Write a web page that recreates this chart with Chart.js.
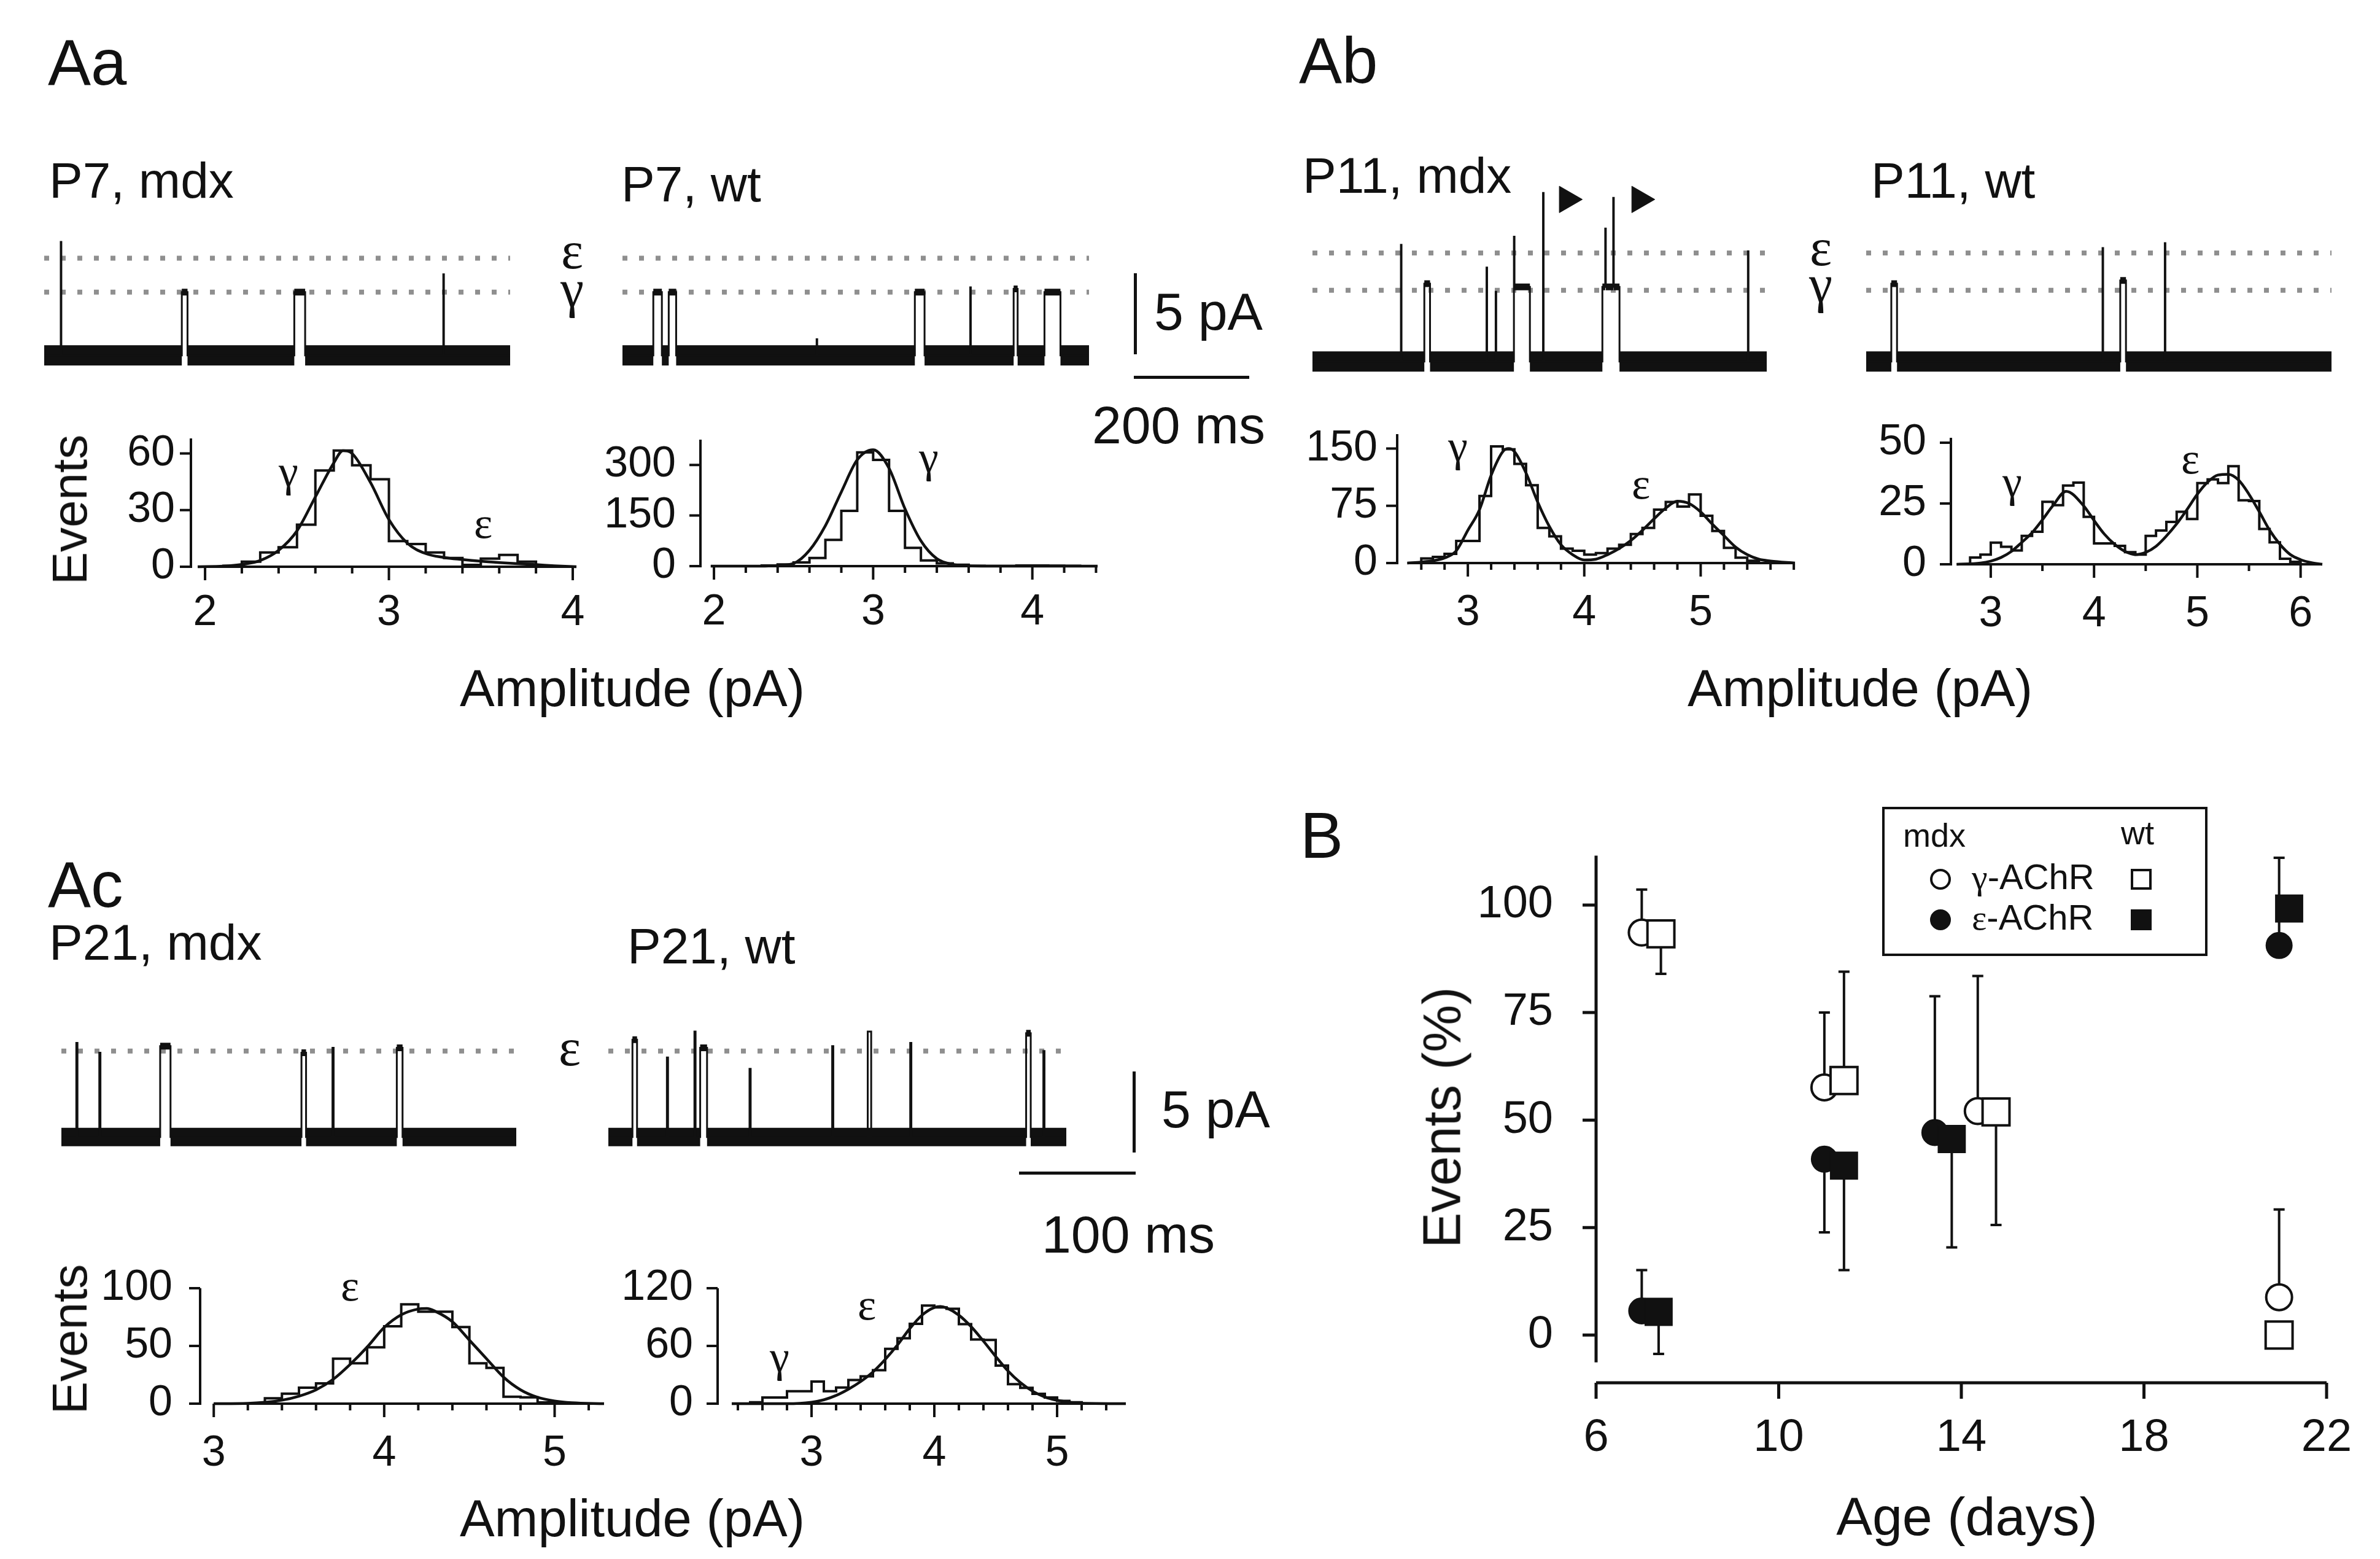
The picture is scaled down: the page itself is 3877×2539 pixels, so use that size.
<!DOCTYPE html>
<html>
<head>
<meta charset="utf-8">
<title>AChR openings, mdx vs wt</title>
<script src="https://cdn.jsdelivr.net/npm/chart.js@4.4.1/dist/chart.umd.min.js"></script>
<style>
  html, body { margin: 0; padding: 0; background: #fff; }
  body { position: relative; width: 3877px; height: 2539px; overflow: hidden;
         font-family: "Liberation Sans", Arial, sans-serif; color: #111; }
  canvas { position: absolute; }
  .txt { position: absolute; white-space: nowrap; line-height: 1; }
  .gr { font-family: "Liberation Serif", "DejaVu Serif", serif; }
  .bar { position: absolute; background: #111; }
</style>
</head>
<body>
<script>
// ---------- traces: [time ms, current pA] where the level changes ----------
const p7MdxDur = 816;
const p7MdxSteps = [[0,0],[29,7.0],[30,0],[241,3.9],[251,0],[438,3.9],[457,0],[699,5.0],[700,0]];
const p7WtDur = 817;
const p7WtSteps = [[0,0],[54,3.9],[69,0],[81,3.9],[94,0],[340,1.0],[341,0],[512,3.9],[529,0],
                   [609,4.2],[610,0],[685,4.1],[692,0],[739,3.9],[767,0]];
const p11MdxDur = 796;
const p11MdxSteps = [[0,0],[155,7.2],[156,0],[196,4.8],[206,0],[305,5.8],[306,0],[321,4.3],[322,0],
                     [353,7.7],[354,4.6],[381,0],[404,10.4],[405,0],[508,4.6],[513,8.2],[514,4.6],
                     [527,10.1],[528,4.6],[538,0],[763,6.8],[764,0]];
const p11MdxArrowsT = [446, 573];
const p11MdxArrowsY = [10.0, 10.0];
const p11WtDur = 815;
const p11WtSteps = [[0,0],[44,4.8],[54,0],[414,7.0],[415,0],[445,5.0],[455,0],[523,7.3],[524,0]];
const p21MdxDur = 396;
const p21MdxSteps = [[0,0],[13,5.8],[14,0],[33,5.2],[34,0],[86,5.6],[95,0],[209,5.2],[213,0],
                     [236,5.5],[237,0],[292,5.5],[297,0]];
const p21WtDur = 399;
const p21WtSteps = [[0,0],[21,6.0],[25,0],[51,4.9],[52,0],[75,6.5],[76,0],[80,5.5],[86,0],[123,4.2],[124,0],
                    [195,5.6],[196,0],[226,6.5],[229,0],[263,5.8],[264,0],[364,6.4],[368,0],[379,5.3],[380,0]];
// dotted reference levels (pA)
const p7Levels = [6.0, 3.9];
const p11Levels = [6.7, 4.4];
const p21Levels = [5.3];

// ---------- amplitude histograms (0.1 pA bins) ----------
const BIN = 0.1;
const aaMdxStart = 2.1;
const aaMdxCounts = [0.5, 2.7, 7.6, 10.3, 22.3, 51, 61.6, 53.8, 46.4, 13.6, 12, 7.6, 4.6, 1, 4.3, 6.3, 2.7];
const aaMdxFitX = [1.96, 2.1, 2.2, 2.3, 2.4, 2.5, 2.6, 2.7, 2.75, 2.8, 2.9, 3.0, 3.1, 3.2, 3.3, 3.4, 3.5, 3.6, 3.7, 3.8, 3.9, 4.02];
const aaMdxFitY = [0, 0.3, 1.2, 3.3, 8.7, 19, 37, 55, 61.5, 60, 44.6, 25, 12.5, 7, 4.9, 3.8, 2.9, 2.2, 1.6, 1.1, 0.5, 0];

const aaWtStart = 2.3;
const aaWtCounts = [2, 5, 11, 24, 78, 164, 337, 315, 164, 54, 17, 8, 4, 1, 0.5, 0.5, 2, 2, 1.5, 1];
const aaWtFitX = [1.98, 2.3, 2.4, 2.5, 2.6, 2.7, 2.8, 2.9, 3.0, 3.1, 3.2, 3.3, 3.4, 3.5, 3.6, 3.8, 4.41];
const aaWtFitY = [0, 0, 2, 8, 47, 120, 220, 315, 345, 290, 170, 75, 22, 5, 1, 0, 0];

const abMdxStart = 2.6;
const abMdxCounts = [6, 8, 12, 29, 29, 88, 153, 149, 130, 102, 46, 35, 19, 16, 11, 13, 19, 24, 38, 46,
                     70, 80, 74, 90, 62, 42, 20, 7, 3];
const abMdxFitX = [2.48, 2.6, 2.7, 2.8, 2.9, 3.0, 3.1, 3.2, 3.3, 3.35, 3.4, 3.5, 3.6, 3.7, 3.8, 3.9, 4.0,
                   4.1, 4.2, 4.3, 4.4, 4.5, 4.6, 4.7, 4.8, 4.9, 5.0, 5.1, 5.2, 5.3, 5.4, 5.5, 5.6, 5.81];
const abMdxFitY = [0, 1.3, 3, 6.7, 16, 43, 70, 115, 146, 150, 146, 118, 80, 48, 24, 11, 4,
                   5, 11, 19, 29.5, 43, 58, 72, 81, 78, 67, 51, 36, 21, 11, 5, 2.7, 0];

const abWtStart = 2.8;
const abWtCounts = [2.8, 4, 8.9, 7.2, 5.7, 11.7, 13.4, 25.7, 24.3, 32.4, 33.6, 19.5, 8.6, 8.6, 7.6, 5, 4,
                    11.7, 13.9, 17.4, 21.6, 18.6, 33.4, 34.9, 33.4, 40.3, 26.3, 26, 14.5, 9, 2.3, 1];
const abWtFitX = [2.67, 2.9, 3.0, 3.1, 3.2, 3.3, 3.4, 3.5, 3.6, 3.73, 3.9, 4.0, 4.1, 4.2, 4.3, 4.4, 4.5,
                  4.6, 4.7, 4.8, 4.9, 5.0, 5.1, 5.2, 5.3, 5.4, 5.5, 5.6, 5.7, 5.8, 5.9, 6.0, 6.1, 6.21];
const abWtFitY = [0, 0.5, 1.3, 2.8, 5.3, 9, 13, 18.3, 24, 30, 24, 18, 12.4, 8.2, 5.3, 4, 4.9,
                  7.4, 11.6, 16.6, 22.5, 28.8, 33.8, 36.7, 37, 34.6, 28.8, 21.6, 14, 8.2, 4, 1.9, 0.7, 0];

const acMdxStart = 3.3;
const acMdxCounts = [4.7, 8.6, 13.8, 17.5, 39, 35, 48.8, 67, 86, 79.7, 79.7, 66.4, 35, 31, 6, 5.5, 1];
const acMdxFitX = [3.0, 3.2, 3.3, 3.4, 3.5, 3.6, 3.7, 3.8, 3.9, 4.0, 4.1, 4.2, 4.25, 4.3, 4.4, 4.5,
                   4.6, 4.7, 4.8, 4.9, 5.0, 5.1, 5.29];
const acMdxFitY = [0, 0.3, 1.2, 3, 6.5, 12, 21, 34, 49, 66, 77, 82, 82.5, 80, 71, 55,
                   39, 23, 12, 5.5, 2.3, 0.8, 0];

const acWtStart = 2.5;
const acWtCounts = [1.4, 6.4, 6.4, 13, 13, 23, 13, 16.8, 24.6, 28.4, 34.8, 57, 68, 83, 102, 100, 98.6,
                    82.6, 66.7, 66.3, 39.6, 20.3, 16.4, 10.2, 6.4, 2.9, 1.4];
const acWtFitX = [2.35, 2.8, 3.0, 3.1, 3.2, 3.3, 3.4, 3.5, 3.6, 3.7, 3.8, 3.9, 4.0, 4.05, 4.1, 4.2, 4.3,
                  4.4, 4.5, 4.6, 4.7, 4.8, 4.9, 5.0, 5.1, 5.2, 5.56];
const acWtFitY = [0, 0, 1.5, 4, 8.5, 15, 23, 33, 46, 61, 78, 92, 100, 101, 99.5, 92, 80,
                  65, 49, 34, 22, 13, 7, 3.5, 1.5, 0.5, 0];

// ---------- B: events (%) vs age ----------
const bAgeTicks = [6, 10, 14, 18, 22];
const bPctTicks = [0, 25, 50, 75, 100];
const mdxGammaAge = [7.0, 11.0, 14.36, 20.96];
const mdxGamma = [93.6, 57.6, 52.1, 8.8];
const mdxGammaBar = [103.6, 75, 83.5, 29.2];
const wtGammaAge = [7.42, 11.43, 14.76, 20.96];
const wtGamma = [93.3, 59.2, 51.9, 0];
const wtGammaBar = [84.0, 84.5, 25.6, null];
const mdxEpsAge = [7.0, 11.0, 13.42, 20.96];
const mdxEps = [5.6, 40.9, 47.1, 90.6];
const mdxEpsBar = [15.1, 23.9, 78.8, 111];
const wtEpsAge = [7.37, 11.43, 13.79, 21.18];
const wtEps = [5.4, 39.4, 45.6, 99.2];
const wtEpsBar = [-4.4, 15.1, 20.4, null];

// ---------- helpers ----------
Chart.defaults.font.family = '"Liberation Sans", Arial, sans-serif';
Chart.defaults.color = '#111';
const INK = '#111';
const common = {
  responsive: false, animation: false, devicePixelRatio: 1, events: [],
  plugins: { legend: { display: false }, tooltip: { enabled: false } }
};

function addCanvas(area, pad) {
  const c = document.createElement('canvas');
  const w = Math.round(area.r - area.l + pad.left + pad.right);
  const h = Math.round(area.b - area.t + pad.top + pad.bottom);
  c.width = w; c.height = h;
  c.style.left = Math.round(area.l - pad.left) + 'px';
  c.style.top = Math.round(area.t - pad.top) + 'px';
  c.style.width = w + 'px'; c.style.height = h + 'px';
  document.body.appendChild(c);
  return c;
}

function text(str, x, y, size, opt = {}) {
  const d = document.createElement('div');
  d.className = 'txt' + (opt.serif ? ' gr' : '');
  d.innerHTML = str;
  d.style.fontSize = size + 'px';
  d.style.left = x + 'px';
  d.style.top = y + 'px';
  const ax = opt.align === 'center' ? '-50%' : '0';
  d.style.transform = 'translate(' + ax + ',-50%)' + (opt.rotate ? ' rotate(' + opt.rotate + 'deg)' : '');
  document.body.appendChild(d);
}

function bar(l, t, w, h) {
  const d = document.createElement('div');
  d.className = 'bar';
  Object.assign(d.style, { left: l + 'px', top: t + 'px', width: w + 'px', height: h + 'px' });
  document.body.appendChild(d);
}

// axis lines + major/minor tick marks, placed through the chart scales
function axesPlugin(a) {
  return {
    id: 'axes',
    afterDraw(chart) {
      const { ctx, scales: { x, y } } = chart;
      const px = v => x.getPixelForValue(v), py = v => y.getPixelForValue(v);
      const yx = py(a.xAt), xy = px(a.yAt);
      ctx.save();
      ctx.strokeStyle = INK; ctx.lineWidth = a.width; ctx.lineCap = 'butt';
      ctx.beginPath();
      ctx.moveTo(px(a.xLine[0]), yx); ctx.lineTo(px(a.xLine[1]), yx);
      ctx.moveTo(xy, py(a.yLine[0]) + a.width / 2); ctx.lineTo(xy, py(a.yLine[1]));
      a.xMajor.forEach(v => { ctx.moveTo(px(v), yx); ctx.lineTo(px(v), yx + a.majorLen); });
      a.xMinor.forEach(v => { ctx.moveTo(px(v), yx); ctx.lineTo(px(v), yx + a.minorLen); });
      a.yMajor.forEach(v => { ctx.moveTo(xy, py(v)); ctx.lineTo(xy - a.yLen, py(v)); });
      ctx.stroke();
      ctx.restore();
    }
  };
}

function range(a, b, step) {
  const out = [];
  for (let v = a; v <= b + 1e-9; v += step) out.push(+v.toFixed(2));
  return out;
}

function histChart(h) {
  const pad = { left: 200, top: 150, right: 160, bottom: 150 };
  const c = addCanvas(h.area, pad);
  const pts = [{ x: h.start, y: 0 }];
  h.counts.forEach((n, i) => pts.push({ x: +(h.start + i * BIN).toFixed(2), y: n }));
  pts.push({ x: +(h.start + h.counts.length * BIN).toFixed(2), y: 0 });
  const fit = h.fitX.map((v, i) => ({ x: v, y: h.fitY[i] }));
  const minor = h.xMinor.filter(v => !h.xMajor.includes(v));
  new Chart(c, {
    type: 'line',
    data: { datasets: [
      { data: pts, stepped: 'before', borderColor: INK, borderWidth: 4, pointRadius: 0, clip: false },
      { data: fit, borderColor: INK, borderWidth: 4.5, pointRadius: 0, cubicInterpolationMode: 'monotone', clip: false }
    ] },
    options: { ...common,
      layout: { autoPadding: false, padding: { left: 0, top: pad.top, right: pad.right, bottom: 0 } },
      scales: {
        x: { type: 'linear', min: h.xmin, max: h.xmax,
             afterFit: s => { s.height = pad.bottom; },
             afterBuildTicks: s => { s.ticks = h.xMajor.map(v => ({ value: v })); },
             border: { display: false }, grid: { display: false, drawTicks: false },
             ticks: { padding: h.xPad, font: { size: 70 }, color: INK, autoSkip: false, maxRotation: 0 } },
        y: { type: 'linear', min: 0, max: h.ymax,
             afterFit: s => { s.width = pad.left; },
             afterBuildTicks: s => { s.ticks = h.yMajor.map(v => ({ value: v })); },
             border: { display: false }, grid: { display: false, drawTicks: false },
             ticks: { padding: h.yPad, font: { size: 70 }, color: INK } }
      } },
    plugins: [axesPlugin({ width: 4, xAt: 0, xLine: [h.lineStart, h.xmax], yAt: h.xmin, yLine: [0, h.ymax],
                           xMajor: h.xMajor, xMinor: minor, yMajor: h.yMajor,
                           majorLen: 22, minorLen: 11, yLen: 18 })]
  });
}

function traceChart(t) {
  const ppa = 26.4;
  const area = { l: t.l, r: t.r, t: t.base - t.ymax * ppa, b: t.base - t.ymin * ppa };
  const pad = { left: 10, top: 10, right: 10, bottom: 10 };
  const c = addCanvas(area, pad);
  const trace = t.steps.map(([x, y]) => ({ x, y }));
  trace.push({ x: t.dur, y: 0 });
  // dense noise: closed periods drawn as a thick band, long openings as a thinner band
  const band = [], open = [];
  t.steps.forEach(([x, lv], i) => {
    const nx = i + 1 < t.steps.length ? t.steps[i + 1][0] : t.dur;
    if (lv === 0) band.push({ x, y: 0 }, { x: nx, y: 0 });
    else if (nx - x > 3) {
      band.push({ x: (x + nx) / 2, y: null });
      open.push({ x, y: lv }, { x: nx, y: lv }, { x: (x + nx) / 2 + 0.01, y: null });
    }
  });
  const sets = [
    { data: trace, stepped: 'before', borderColor: INK, borderWidth: 3, pointRadius: 0, clip: false, order: 1 },
    { data: band, borderColor: INK, borderWidth: t.noise, pointRadius: 0, clip: false, order: 2 },
    { data: open, borderColor: INK, borderWidth: 11, pointRadius: 0, clip: false, order: 2 }
  ];
  t.levels.forEach(lv => sets.push({
    data: [{ x: 0, y: lv }, { x: t.dur, y: lv }], borderColor: '#8f8f8f', borderWidth: 8,
    borderDash: [8, 19], pointRadius: 0, clip: false, order: 5 }));
  if (t.arrowsT) sets.push({
    data: t.arrowsT.map((x, i) => ({ x, y: t.arrowsY[i] })), showLine: false,
    pointStyle: 'triangle', rotation: 90, pointRadius: 25, backgroundColor: INK, borderColor: INK,
    borderWidth: 1, clip: false, order: 0 });
  new Chart(c, {
    type: 'line',
    data: { datasets: sets },
    options: { ...common, layout: { autoPadding: false, padding: pad },
      scales: { x: { type: 'linear', display: false, min: 0, max: t.dur },
                y: { type: 'linear', display: false, min: t.ymin, max: t.ymax } } }
  });
}

// ---------- traces ----------
traceChart({ l: 72, r: 831, base: 579, ymin: -3, ymax: 12, dur: p7MdxDur, steps: p7MdxSteps, levels: p7Levels, noise: 33 });
traceChart({ l: 1014, r: 1774, base: 579, ymin: -3, ymax: 12, dur: p7WtDur, steps: p7WtSteps, levels: p7Levels, noise: 33 });
traceChart({ l: 2138, r: 2878, base: 589, ymin: -3, ymax: 12, dur: p11MdxDur, steps: p11MdxSteps, levels: p11Levels,
             noise: 33, arrowsT: p11MdxArrowsT, arrowsY: p11MdxArrowsY });
traceChart({ l: 3040, r: 3798, base: 589, ymin: -3, ymax: 12, dur: p11WtDur, steps: p11WtSteps, levels: p11Levels, noise: 33 });
traceChart({ l: 100, r: 841, base: 1852, ymin: -3, ymax: 9, dur: p21MdxDur, steps: p21MdxSteps, levels: p21Levels, noise: 30 });
traceChart({ l: 991, r: 1737, base: 1852, ymin: -3, ymax: 9, dur: p21WtDur, steps: p21WtSteps, levels: p21Levels, noise: 30 });

// ---------- histograms ----------
histChart({ area: { l: 311, r: 939, t: 714, b: 923 }, xmin: 1.923, xmax: 4.02, ymax: 68, lineStart: 1.96,
            xMajor: [2, 3, 4], xMinor: range(2, 4, 0.2), yMajor: [0, 30, 60], xPad: 34, yPad: 26,
            start: aaMdxStart, counts: aaMdxCounts, fitX: aaMdxFitX, fitY: aaMdxFitY });
histChart({ area: { l: 1141, r: 1788, t: 716, b: 922 }, xmin: 1.915, xmax: 4.41, ymax: 375, lineStart: 1.98,
            xMajor: [2, 3, 4], xMinor: range(2, 4.4, 0.2), yMajor: [0, 150, 300], xPad: 34, yPad: 40,
            start: aaWtStart, counts: aaWtCounts, fitX: aaWtFitX, fitY: aaWtFitY });
histChart({ area: { l: 2276, r: 2924, t: 707, b: 917 }, xmin: 2.393, xmax: 5.81, ymax: 169, lineStart: 2.48,
            xMajor: [3, 4, 5], xMinor: range(2.6, 5.8, 0.2), yMajor: [0, 75, 150], xPad: 40, yPad: 32,
            start: abMdxStart, counts: abMdxCounts, fitX: abMdxFitX, fitY: abMdxFitY });
histChart({ area: { l: 3178, r: 3783, t: 713, b: 919 }, xmin: 2.614, xmax: 6.21, ymax: 52, lineStart: 2.67,
            xMajor: [3, 4, 5, 6], xMinor: range(3, 6, 0.5), yMajor: [0, 25, 50], xPad: 40, yPad: 40,
            start: abWtStart, counts: abWtCounts, fitX: abWtFitX, fitY: abWtFitY });
histChart({ area: { l: 326, r: 984, t: 2098, b: 2286 }, xmin: 2.92, xmax: 5.29, ymax: 100, lineStart: 3.0,
            xMajor: [3, 4, 5], xMinor: range(3, 5.2, 0.2), yMajor: [0, 50, 100], xPad: 40, yPad: 45,
            start: acMdxStart, counts: acMdxCounts, fitX: acMdxFitX, fitY: acMdxFitY });
histChart({ area: { l: 1169, r: 1834, t: 2098, b: 2286 }, xmin: 2.235, xmax: 5.56, ymax: 120, lineStart: 2.35,
            xMajor: [3, 4, 5], xMinor: range(2.4, 5.4, 0.2), yMajor: [0, 60, 120], xPad: 40, yPad: 40,
            start: acWtStart, counts: acWtCounts, fitX: acWtFitX, fitY: acWtFitY });

// ---------- B ----------
(function () {
  const area = { l: 2600, r: 3790, t: 1390, b: 2252 };
  const pad = { left: 260, top: 150, right: 160, bottom: 160 };
  const c = addCanvas(area, pad);
  const pts = (xs, ys) => xs.map((x, i) => ({ x, y: ys[i] }));
  const errSets = [
    { x: mdxGammaAge, y: mdxGamma, to: mdxGammaBar }, { x: wtGammaAge, y: wtGamma, to: wtGammaBar },
    { x: mdxEpsAge, y: mdxEps, to: mdxEpsBar }, { x: wtEpsAge, y: wtEps, to: wtEpsBar }
  ];
  const errorBars = {
    id: 'errbars',
    beforeDatasetsDraw(chart) {
      const { ctx, scales: { x, y } } = chart;
      ctx.save(); ctx.strokeStyle = INK; ctx.lineWidth = 4; ctx.beginPath();
      errSets.forEach(s => s.x.forEach((xv, i) => {
        if (s.to[i] === null) return;
        const px = x.getPixelForValue(xv), pe = y.getPixelForValue(s.to[i]);
        ctx.moveTo(px, y.getPixelForValue(s.y[i])); ctx.lineTo(px, pe);
        ctx.moveTo(px - 9, pe); ctx.lineTo(px + 9, pe);
      }));
      ctx.stroke(); ctx.restore();
    }
  };
  new Chart(c, {
    type: 'scatter',
    data: { datasets: [
      { data: pts(wtEpsAge, wtEps), pointStyle: 'rect', pointRadius: 31, backgroundColor: INK, borderColor: INK, borderWidth: 2 },
      { data: pts(wtGammaAge, wtGamma), pointStyle: 'rect', pointRadius: 31, backgroundColor: '#fff', borderColor: INK, borderWidth: 4 },
      { data: pts(mdxEpsAge, mdxEps), pointStyle: 'circle', pointRadius: 21, backgroundColor: INK, borderColor: INK, borderWidth: 2 },
      { data: pts(mdxGammaAge, mdxGamma), pointStyle: 'circle', pointRadius: 21, backgroundColor: '#fff', borderColor: INK, borderWidth: 4 }
    ] },
    options: { ...common,
      layout: { autoPadding: false, padding: { left: 0, top: pad.top, right: pad.right, bottom: 0 } },
      scales: {
        x: { type: 'linear', min: 6, max: 22,
             afterFit: s => { s.height = pad.bottom; },
             afterBuildTicks: s => { s.ticks = bAgeTicks.map(v => ({ value: v })); },
             border: { display: false }, grid: { display: false, drawTicks: false },
             ticks: { padding: 46, font: { size: 74 }, color: INK, autoSkip: false, maxRotation: 0 } },
        y: { type: 'linear', min: -11.1, max: 112,
             afterFit: s => { s.width = pad.left; },
             afterBuildTicks: s => { s.ticks = bPctTicks.map(v => ({ value: v })); },
             border: { display: false }, grid: { display: false, drawTicks: false },
             ticks: { padding: 70, font: { size: 74 }, color: INK } }
      } },
    plugins: [errorBars, axesPlugin({ width: 5, xAt: -11.1, xLine: [6, 22], yAt: 6, yLine: [-6, 111.5],
                                      xMajor: bAgeTicks, xMinor: [], yMajor: bPctTicks,
                                      majorLen: 26, minorLen: 0, yLen: 22 })]
  });
})();

// ---------- legend of B ----------
(function () {
  const box = document.createElement('div');
  Object.assign(box.style, { position: 'absolute', left: '3066px', top: '1314px', width: '530px', height: '243px',
                             border: '4px solid #111', boxSizing: 'border-box' });
  document.body.appendChild(box);
  const mark = (cx, cy, round, filled) => {
    const d = document.createElement('div');
    Object.assign(d.style, { position: 'absolute', left: (cx - 17) + 'px', top: (cy - 17) + 'px', width: '34px', height: '34px',
                             border: '4px solid #111', boxSizing: 'border-box', borderRadius: round ? '50%' : '0',
                             background: filled ? '#111' : '#fff' });
    document.body.appendChild(d);
  };
  text('mdx', 3100, 1360, 54);
  text('wt', 3455, 1356, 54);
  mark(3161, 1432, true, false); mark(3488, 1432, false, false);
  mark(3161, 1498, true, true); mark(3488, 1498, false, true);
  text('<span class="gr">&gamma;</span>-AChR', 3212, 1428, 58);
  text('<span class="gr">&epsilon;</span>-AChR', 3212, 1494, 58);
})();

// ---------- labels ----------
text('Aa', 78, 101, 105); text('Ab', 2116, 98, 105); text('Ac', 78, 1440, 105); text('B', 2118, 1360, 105);
text('P7, mdx', 80, 294, 82); text('P7, wt', 1012, 300, 82);
text('P11, mdx', 2122, 286, 82); text('P11, wt', 3048, 294, 82);
text('P21, mdx', 80, 1535, 82); text('P21, wt', 1022, 1541, 82);

text('&epsilon;', 932, 408, 86, { serif: true, align: 'center' });
text('&gamma;', 932, 470, 86, { serif: true, align: 'center' });
text('&epsilon;', 2966, 403, 86, { serif: true, align: 'center' });
text('&gamma;', 2966, 462, 86, { serif: true, align: 'center' });
text('&epsilon;', 928, 1706, 86, { serif: true, align: 'center' });

// scale bars
bar(1847, 445, 5, 132); bar(1847, 612, 188, 5);
text('5 pA', 1880, 507, 86); text('200 ms', 1920, 692, 86, { align: 'center' });
bar(1845, 1745, 5, 132); bar(1660, 1908, 190, 5);
text('5 pA', 1892, 1806, 86); text('100 ms', 1838, 2010, 86, { align: 'center' });

// histogram labels
text('&gamma;', 470, 768, 72, { serif: true, align: 'center' });
text('&epsilon;', 787, 852, 72, { serif: true, align: 'center' });
text('&gamma;', 1513, 745, 72, { serif: true, align: 'center' });
text('&gamma;', 2375, 727, 72, { serif: true, align: 'center' });
text('&epsilon;', 2673, 788, 72, { serif: true, align: 'center' });
text('&gamma;', 3278, 785, 72, { serif: true, align: 'center' });
text('&epsilon;', 3568, 747, 72, { serif: true, align: 'center' });
text('&epsilon;', 570, 2094, 72, { serif: true, align: 'center' });
text('&epsilon;', 1412, 2125, 72, { serif: true, align: 'center' });
text('&gamma;', 1270, 2210, 72, { serif: true, align: 'center' });

text('Events', 114, 830, 80, { align: 'center', rotate: -90 });
text('Events', 114, 2181, 80, { align: 'center', rotate: -90 });
text('Amplitude (pA)', 1030, 1120, 85, { align: 'center' });
text('Amplitude (pA)', 3030, 1120, 85, { align: 'center' });
text('Amplitude (pA)', 1030, 2472, 85, { align: 'center' });
text('Events (%)', 2348, 1820, 87, { align: 'center', rotate: -90 });
text('Age (days)', 3204, 2470, 88, { align: 'center' });
</script>
</body>
</html>
